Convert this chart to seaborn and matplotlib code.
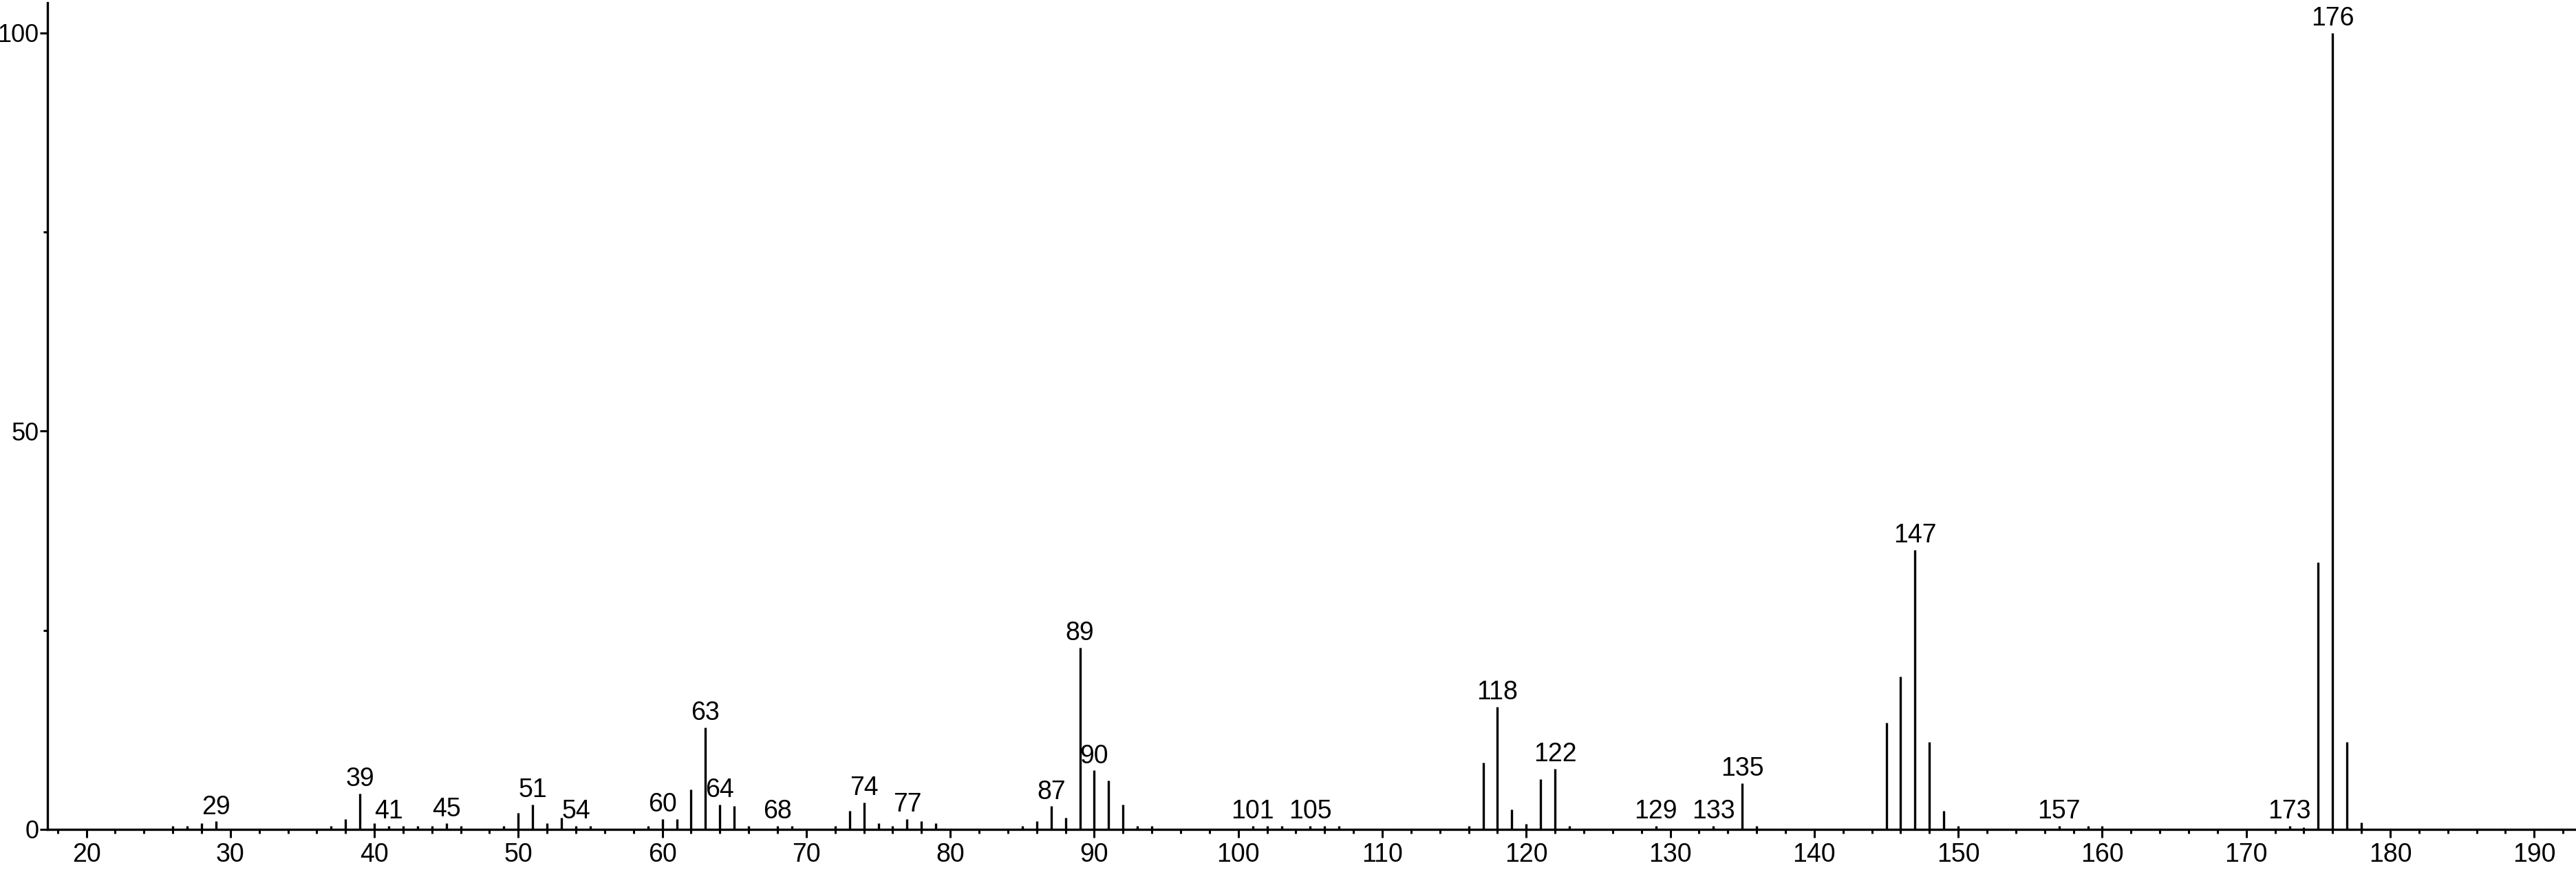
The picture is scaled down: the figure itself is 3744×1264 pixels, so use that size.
import numpy as np
import pandas as pd
import seaborn as sns
import matplotlib
matplotlib.use("Agg")
import matplotlib.pyplot as plt
from matplotlib.ticker import MultipleLocator, FixedLocator

# peak list (m/z, relative intensity %)
mz = [26, 27, 28, 29, 37, 38, 39, 40, 41, 42, 43, 44, 45, 46, 49, 50, 51, 52, 53, 54,
      55, 59, 60, 61, 62, 63, 64, 65, 66, 68, 69, 72, 73, 74, 75, 76, 77, 78, 79,
      85, 86, 87, 88, 89, 90, 91, 92, 93, 94, 101, 102, 103, 105, 106, 107,
      116, 117, 118, 119, 120, 121, 122, 123, 129, 133, 135, 136,
      145, 146, 147, 148, 149, 150, 157, 159, 160, 173, 174, 175, 176, 177, 178]
intensity = [0.45, 0.45, 0.75, 1.0, 0.45, 1.3, 4.5, 0.75, 0.45, 0.45, 0.45, 0.45, 0.75, 0.45,
             0.45, 2.1, 3.1, 0.75, 1.5, 0.45,
             0.45, 0.45, 1.3, 1.3, 5.0, 12.8, 3.1, 2.9, 0.45, 0.45, 0.45, 0.45, 2.3, 3.4,
             0.75, 0.45, 1.3, 1.0, 0.75,
             0.45, 1.0, 2.9, 1.5, 22.8, 7.4, 6.1, 3.1, 0.45, 0.45, 0.45, 0.45, 0.45, 0.45,
             0.45, 0.45,
             0.4, 8.4, 15.4, 2.5, 0.7, 6.3, 7.6, 0.45, 0.45, 0.45, 5.8, 0.45,
             13.4, 19.2, 35.1, 11.0, 2.3, 0.45, 0.45, 0.45, 0.45, 0.45, 0.3, 33.5, 100.0,
             11.0, 0.9]

labelled = [29, 39, 41, 45, 51, 54, 60, 63, 64, 68, 74, 77, 87, 89, 90, 101, 105,
            118, 122, 129, 133, 135, 147, 157, 173, 176]

x_major = list(range(20, 191, 10))
y_major = [0, 50, 100]
y_minor = [25, 75]

df = pd.DataFrame({"mz": mz, "intensity": intensity})

sns.set_theme(style="ticks")
plt.rcParams["font.family"] = ["Liberation Sans", "DejaVu Sans"]

fig = plt.figure(figsize=(37.44, 12.64), dpi=100)
ax = fig.add_axes([69 / 3744, 59 / 1264, 1 - 69 / 3744, 1201 / 1264])

ax.vlines(df["mz"], 0, df["intensity"], color="black", linewidth=2.4)

for m in labelled:
    h = df.loc[df["mz"] == m, "intensity"].iloc[0]
    ax.annotate(str(m), (m, h), xytext=(0, 2), textcoords="offset points",
                ha="center", va="bottom", fontsize=27, color="black")

ax.set_xlim(17.3, 192.9)
ax.set_ylim(0, 103.8)

ax.xaxis.set_major_locator(FixedLocator(x_major))
ax.xaxis.set_minor_locator(MultipleLocator(2))
ax.yaxis.set_major_locator(FixedLocator(y_major))
ax.yaxis.set_minor_locator(FixedLocator(y_minor))

ax.tick_params(axis="x", which="major", length=8.5, width=2.2, direction="out",
               labelsize=27, pad=5, color="black", labelcolor="black")
ax.tick_params(axis="x", which="minor", length=4.2, width=2.2, direction="out",
               color="black")
ax.tick_params(axis="y", which="major", length=8, width=2.2, direction="out",
               labelsize=26, pad=1, color="black", labelcolor="black")
ax.tick_params(axis="y", which="minor", length=4, width=2.2, direction="out",
               color="black")

sns.despine(ax=ax, top=True, right=True)
ax.spines["left"].set_linewidth(2.4)
ax.spines["bottom"].set_linewidth(2.4)
ax.spines["left"].set_color("black")
ax.spines["bottom"].set_color("black")
ax.set_xlabel("")
ax.set_ylabel("")
ax.grid(False)

fig.savefig("out.png", dpi=100)
